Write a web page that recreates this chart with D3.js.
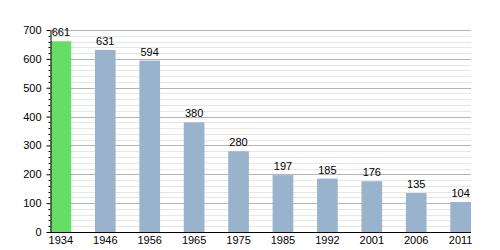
<!DOCTYPE html>
<html>
<head>
<meta charset="utf-8">
<script src="https://cdn.jsdelivr.net/npm/d3@7"></script>
<style>
  body { margin: 0; background: #fff; }
  text { font-family: "Liberation Sans", Arial, sans-serif; }
</style>
</head>
<body>
<div id="chart"></div>
<script>
// census years and population
const years = ["1934", "1946", "1956", "1965", "1975", "1985", "1992", "2001", "2006", "2011"];
const population = [661, 631, 594, 380, 280, 197, 185, 176, 135, 104];
const yTicks = [0, 100, 200, 300, 400, 500, 600, 700];

const W = 500, H = 250;
const mLeft = 50.5, mRight = 471, mTop = 30, mBottom = 232;

const svg = d3.select("#chart").append("svg")
  .attr("width", W)
  .attr("height", H);

const x = d3.scaleBand()
  .domain(years)
  .range([mLeft, mRight])
  .paddingInner(0.534)
  .paddingOuter(0)
  .align(0);

const y = d3.scaleLinear()
  .domain([0, 700])
  .range([mBottom, mTop]);

// minor grid every 20
svg.append("g")
  .selectAll("line")
  .data(d3.range(0, 701, 20).filter(d => d % 100 != 0))
  .join("line")
  .attr("x1", mLeft).attr("x2", mRight)
  .attr("y1", d => Math.round(y(d)) + 0.5)
  .attr("y2", d => Math.round(y(d)) + 0.5)
  .attr("stroke", "#e6e6e6");

// major grid
svg.append("g")
  .selectAll("line")
  .data(yTicks.filter(d => d > 0))
  .join("line")
  .attr("x1", mLeft).attr("x2", mRight)
  .attr("y1", d => Math.round(y(d)) + 0.5)
  .attr("y2", d => Math.round(y(d)) + 0.5)
  .attr("stroke", "#b4b4b4");

// bars
svg.append("g")
  .selectAll("rect")
  .data(population)
  .join("rect")
  .attr("x", (d, i) => x(years[i]))
  .attr("y", d => y(d))
  .attr("width", x.bandwidth())
  .attr("height", d => mBottom - y(d))
  .attr("fill", (d, i) => i == 0 ? "#66dd66" : "#99b3cc");

// value labels
svg.append("g")
  .selectAll("text")
  .data(population)
  .join("text")
  .attr("x", (d, i) => x(years[i]) + x.bandwidth() / 2)
  .attr("y", d => y(d) - 5)
  .attr("text-anchor", "middle")
  .attr("font-size", 11)
  .text(d => d);

// y axis
const yAxis = svg.append("g")
  .attr("transform", "translate(" + mLeft + ",0)")
  .call(d3.axisLeft(y).tickValues(yTicks).tickSize(4).tickSizeOuter(0).tickPadding(5));
yAxis.selectAll("text").attr("font-size", 11).attr("fill", "#000").style("font-family", "Liberation Sans, Arial, sans-serif");
yAxis.select(".domain").attr("stroke", "#000");

// minor ticks on y axis
svg.append("g")
  .selectAll("line")
  .data(d3.range(0, 701, 20).filter(d => d % 100 != 0))
  .join("line")
  .attr("x1", mLeft - 2).attr("x2", mLeft)
  .attr("y1", d => Math.round(y(d)) + 0.5)
  .attr("y2", d => Math.round(y(d)) + 0.5)
  .attr("stroke", "#000");

// x axis
const xAxis = svg.append("g")
  .attr("transform", "translate(0," + mBottom + ")")
  .call(d3.axisBottom(x).tickSize(0).tickPadding(4));
xAxis.selectAll("text").attr("font-size", 11).attr("fill", "#000").style("font-family", "Liberation Sans, Arial, sans-serif");
xAxis.select(".domain").attr("stroke", "#000").attr("d", "M" + (mLeft - 0.5) + ",0.5H" + mRight);
</script>
</body>
</html>
